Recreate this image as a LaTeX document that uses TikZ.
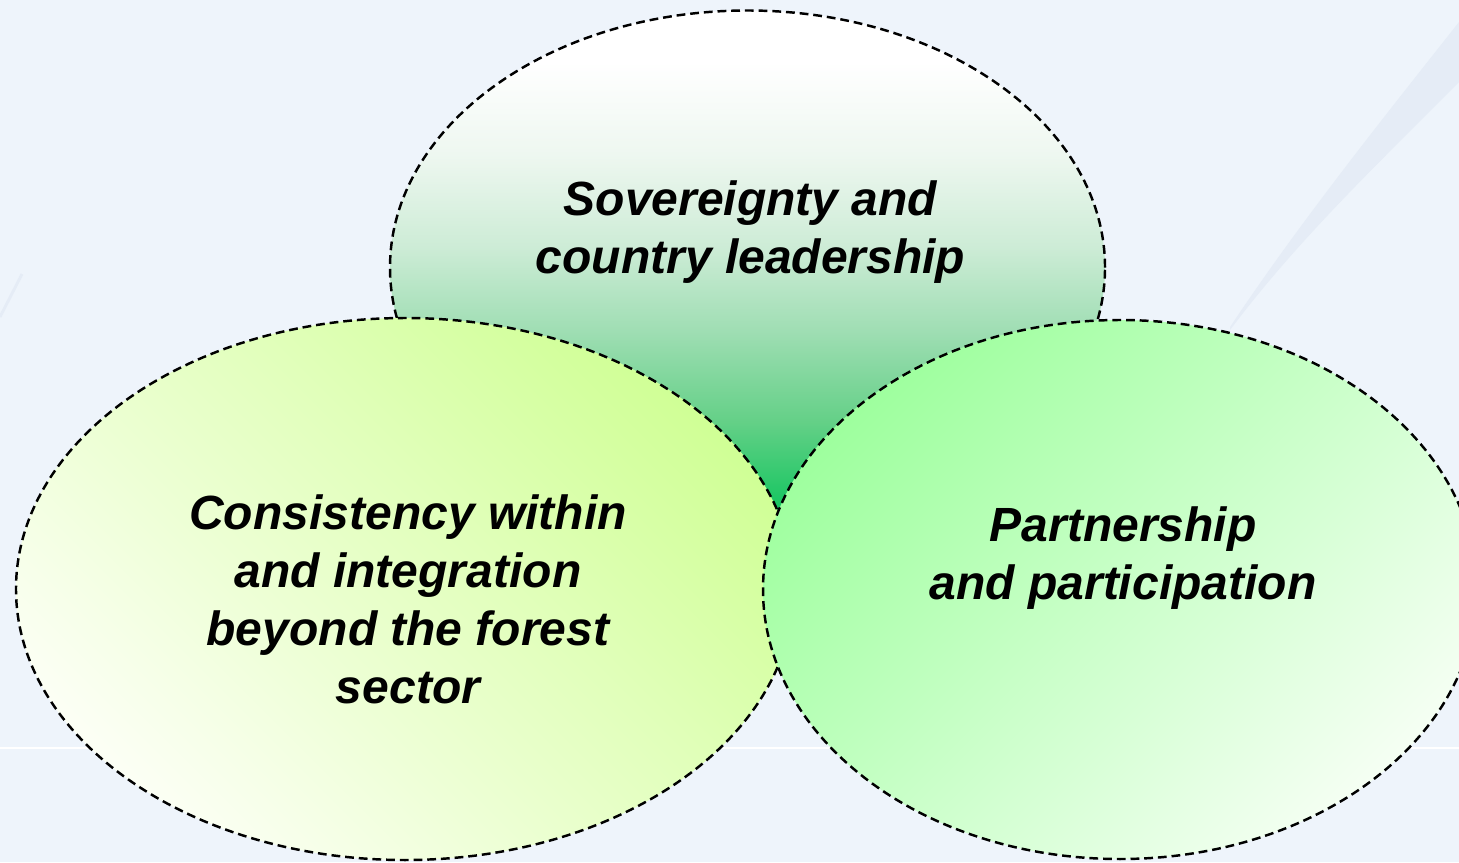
\documentclass[tikz,border=0pt]{standalone}
\usepackage{fontspec}
\setmainfont{Liberation Sans}
\usetikzlibrary{shapes.geometric}

\definecolor{bgblue}{RGB}{238,244,251}
\definecolor{streak}{RGB}{229,236,246}
\definecolor{sovD}{RGB}{25,198,98}
\definecolor{sovC}{RGB}{100,208,135}
\definecolor{sovB}{RGB}{160,222,180}
\definecolor{sovA}{RGB}{205,236,214}
\definecolor{sovW}{RGB}{238,247,240}
\definecolor{consA}{RGB}{252,255,245}
\definecolor{consB}{RGB}{208,255,150}
\definecolor{partA}{RGB}{245,255,243}
\definecolor{partB}{RGB}{158,255,158}

\pgfdeclareverticalshading{sovshade}{100bp}{color(0bp)=(sovD); color(27bp)=(sovD);
  color(35bp)=(sovC); color(44bp)=(sovB); color(52bp)=(sovA); color(61bp)=(sovW);
  color(70bp)=(white); color(100bp)=(white)}

\begin{document}
\begin{tikzpicture}[
    bubble/.style = {ellipse, draw=black, line width=0.7pt,
                     dash pattern=on 2.5pt off 1.4pt, inner sep=0pt},
    lbl/.style = {align=center, inner sep=0pt,
                  font=\fontsize{13.66pt}{16.5pt}\selectfont\bfseries\itshape}
  ]
  \useasboundingbox (0,0) rectangle (14.59,8.62);
  \clip (0,0) rectangle (14.59,8.62);
  \fill[bgblue] (0,0) rectangle (14.59,8.62);

  % faint background marks
  \draw[white, line width=0.6pt] (0,1.14) -- (14.59,1.14);
  \fill[streak] (12.30,5.35) .. controls (13.0,6.40) and (13.8,7.40) .. (14.59,8.40)
    -- (14.59,7.80) .. controls (13.8,7.0) and (13.0,6.25) .. (12.30,5.32) -- cycle;
  \draw[streak, line width=0.8pt] (0,5.45) -- (0.22,5.88);

  % the three ellipses
  \node[bubble, shade, shading=sovshade, minimum width=7.15cm, minimum height=5.14cm]
    (sov) at (7.475,5.945) {};
  \node[bubble, top color=consB, bottom color=consA, shading angle=-45,
        minimum width=7.78cm, minimum height=5.42cm] (cons) at (4.05,2.73) {};
  \node[bubble, top color=partB, bottom color=partA, shading angle=45,
        minimum width=7.14cm, minimum height=5.39cm] (part) at (11.2,2.725) {};

  % labels
  \node[lbl] (sovtext) at ([xshift=0.03cm,yshift=0.355cm]sov.center) {Sovereignty and\\country leadership};
  \node[lbl] (constext) at ([xshift=0.03cm,yshift=-0.105cm]cons.center)
    {Consistency within\\and integration\\beyond the forest\\sector};
  \node[lbl] (parttext) at ([xshift=0.03cm,yshift=0.31cm]part.center) {Partnership\\and participation};
\end{tikzpicture}
\end{document}
